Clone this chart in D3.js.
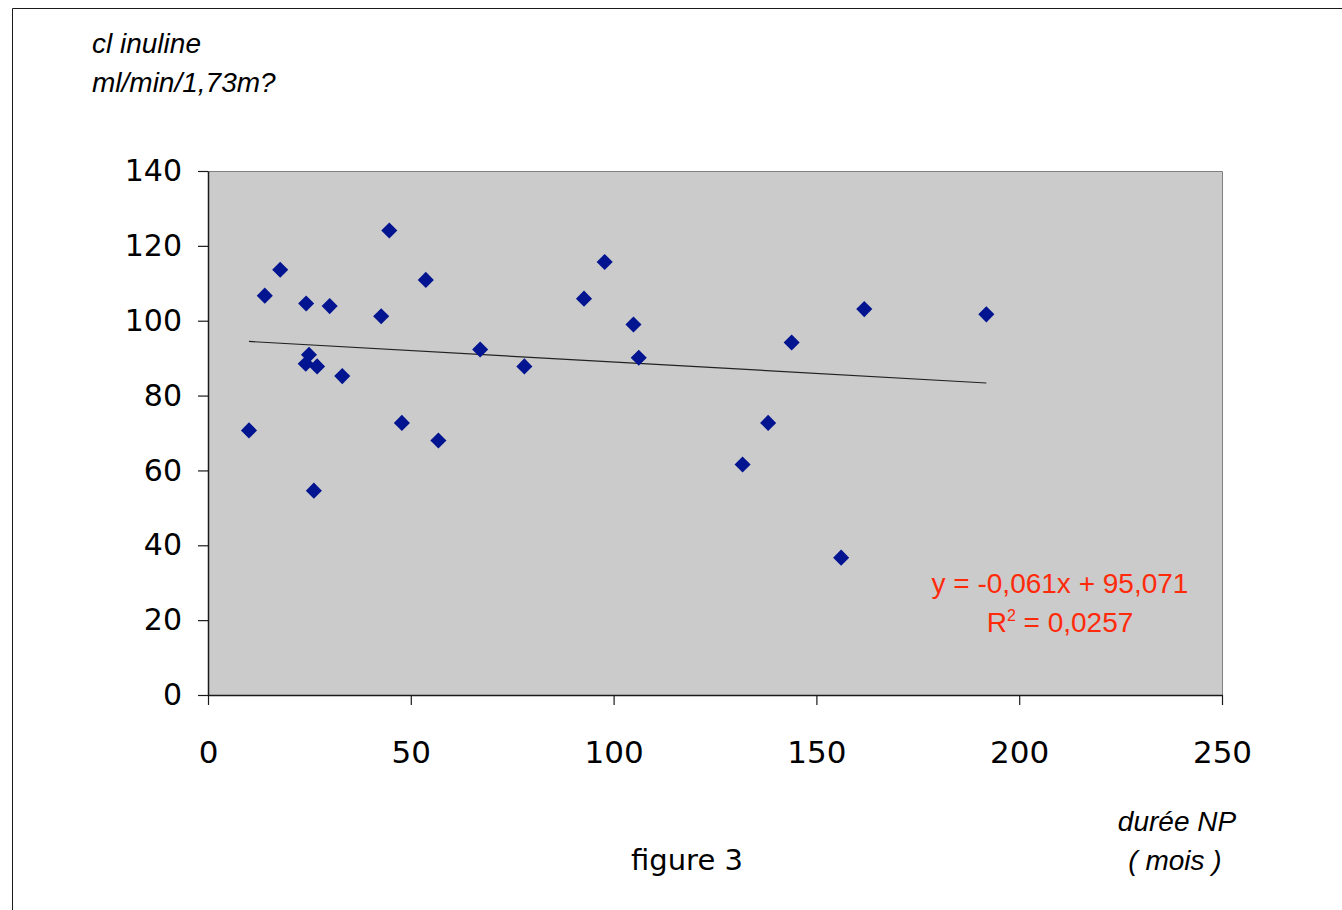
<!DOCTYPE html>
<html>
<head>
<meta charset="utf-8">
<script src="https://cdn.jsdelivr.net/npm/d3@7/dist/d3.min.js"></script>
<style>
  html, body { margin: 0; padding: 0; background: #fff; }
  svg { display: block; }
</style>
</head>
<body>
<script>
// Duration of nephrotic syndrome (months) vs inulin clearance (ml/min/1,73m²)
const dureeMois = [10.1, 14.0, 17.8, 24.2, 30.0, 44.7, 53.7, 42.7, 67.1, 24.9, 24.1, 26.9, 33.1,
  47.8, 56.8, 26.1, 78.0, 97.8, 92.7, 104.9, 106.2, 143.9, 161.8, 138.1, 131.8, 191.9, 156.1];
const clInuline = [70.7, 106.7, 113.6, 104.6, 103.9, 124.1, 110.9, 101.2, 92.3, 90.9, 88.5, 87.8, 85.2,
  72.7, 68.0, 54.6, 87.8, 115.7, 105.9, 99.0, 90.1, 94.2, 103.1, 72.7, 61.6, 101.7, 36.7];

// Linear trend as reported on the chart
const trendSlope = -0.061;
const trendIntercept = 95.071;
const equationLines = ["y = -0,061x + 95,071", "R2 = 0,0257"];

const xTicks = [0, 50, 100, 150, 200, 250];
const yTicks = [0, 20, 40, 60, 80, 100, 120, 140];

const W = 1342, H = 910;
const plot = { left: 208, right: 1222, top: 171, bottom: 695 };

const svg = d3.select("body").append("svg").attr("width", W).attr("height", H);

// outer chart frame
svg.append("path")
  .attr("d", `M12.5,${H} V8.5 H${W}`)
  .attr("fill", "none").attr("stroke", "#1a1a1a").attr("stroke-width", 1);

const x = d3.scaleLinear().domain([0, 250]).range([plot.left, plot.right]);
const y = d3.scaleLinear().domain([0, 140]).range([plot.bottom, plot.top]);

// plot area
svg.append("rect")
  .attr("x", plot.left).attr("y", plot.top)
  .attr("width", plot.right - plot.left).attr("height", plot.bottom - plot.top)
  .attr("fill", "#cbcbcb");
svg.append("path")
  .attr("d", `M${plot.left},${plot.top + 0.5} H${plot.right + 0.5} V${plot.bottom}`)
  .attr("fill", "none").attr("stroke", "#808080").attr("stroke-width", 1);

const tickFont = "'DejaVu Sans', sans-serif";

// y axis
const yAxis = svg.append("g")
  .attr("transform", `translate(${plot.left},0)`)
  .call(d3.axisLeft(y).tickValues(yTicks).tickSize(10).tickPadding(16).tickSizeOuter(0));
yAxis.select(".domain").attr("stroke", "#1a1a1a").attr("stroke-width", 1.5);
yAxis.selectAll(".tick line").attr("stroke", "#1a1a1a").attr("stroke-width", 1.2);
yAxis.selectAll(".tick text")
  .attr("font-family", tickFont).attr("font-size", 30).attr("fill", "#000");

// x axis
const xAxis = svg.append("g")
  .attr("transform", `translate(0,${plot.bottom})`)
  .call(d3.axisBottom(x).tickValues(xTicks).tickSize(10).tickPadding(36).tickSizeOuter(0));
xAxis.select(".domain").attr("stroke", "#1a1a1a").attr("stroke-width", 1.5);
xAxis.selectAll(".tick line").attr("stroke", "#1a1a1a").attr("stroke-width", 1.2);
xAxis.selectAll(".tick text")
  .attr("font-family", tickFont).attr("font-size", 31).attr("fill", "#000");

// trend line spanning the observed durations
const xr = d3.extent(dureeMois);
svg.append("line")
  .attr("x1", x(xr[0])).attr("y1", y(trendSlope * xr[0] + trendIntercept))
  .attr("x2", x(xr[1])).attr("y2", y(trendSlope * xr[1] + trendIntercept))
  .attr("stroke", "#222").attr("stroke-width", 1.2);

// diamond markers
const diamond = d3.symbol().type(d3.symbolDiamond2).size(165);
svg.append("g").selectAll("path")
  .data(d3.range(dureeMois.length))
  .join("path")
  .attr("d", diamond)
  .attr("transform", i => `translate(${x(dureeMois[i])},${y(clInuline[i])})`)
  .attr("fill", "#031490");

// regression equation
const eq = svg.append("g")
  .attr("font-family", "'Liberation Sans', Arial, sans-serif")
  .attr("font-size", 28).attr("fill", "#ff2a0a").attr("text-anchor", "middle");
eq.append("text").attr("x", 1060).attr("y", 593).text(equationLines[0]);
const r2 = eq.append("text").attr("x", 1060).attr("y", 632);
r2.append("tspan").text("R");
r2.append("tspan").attr("font-size", 16).attr("dy", -11).text("2");
r2.append("tspan").attr("dy", 11).text(" = 0,0257");

// axis titles
const italic = svg.append("g")
  .attr("font-family", "'Liberation Sans', Arial, sans-serif")
  .attr("font-style", "italic").attr("font-size", 28).attr("fill", "#000");
italic.append("text").attr("x", 92).attr("y", 53).text("cl inuline");
italic.append("text").attr("x", 92).attr("y", 92).text("ml/min/1,73m?");
italic.append("text").attr("x", 1177).attr("y", 831).attr("text-anchor", "middle").text("durée NP");
italic.append("text").attr("x", 1175).attr("y", 870).attr("text-anchor", "middle").text("( mois )");

svg.append("text")
  .attr("x", 687).attr("y", 870).attr("text-anchor", "middle")
  .attr("font-family", tickFont).attr("font-size", 29).attr("fill", "#000")
  .text("figure 3");
</script>
</body>
</html>
